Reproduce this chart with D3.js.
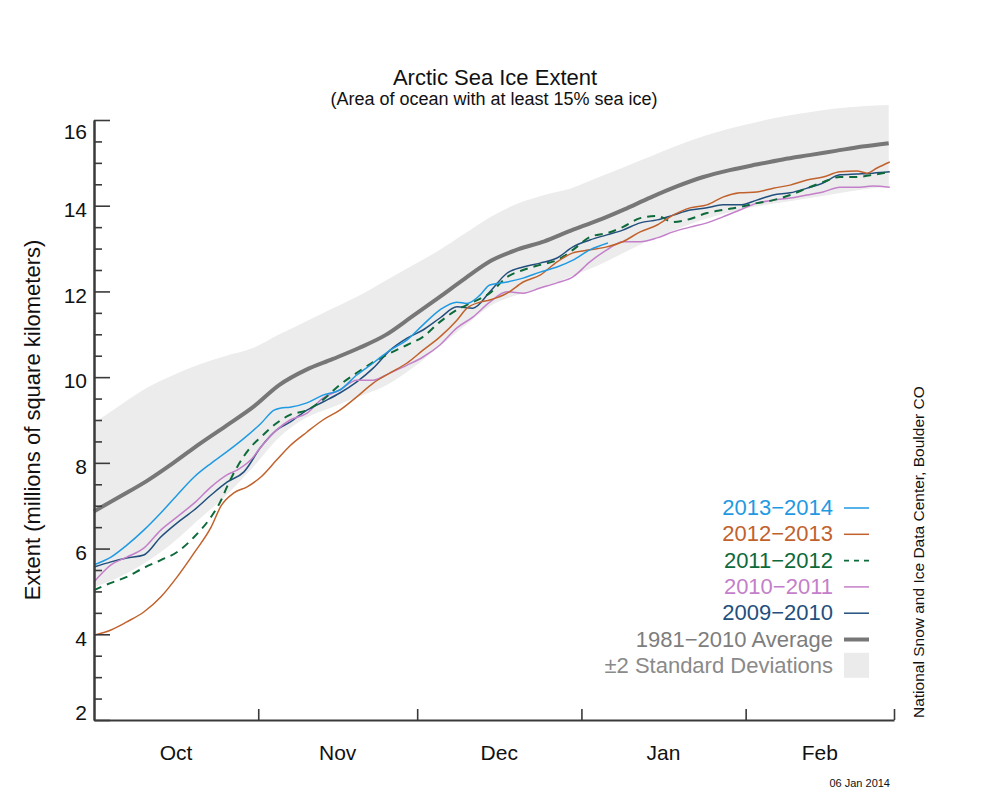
<!DOCTYPE html>
<html>
<head>
<meta charset="utf-8">
<script src="https://cdn.jsdelivr.net/npm/d3@7"></script>
<style>
  html, body { margin: 0; padding: 0; background: #fff; }
  svg text { font-family: "Liberation Sans", Arial, Helvetica, sans-serif; }
</style>
</head>
<body>
<svg id="chart" width="1000" height="800"></svg>
<script>
// ---------- DATA (day offsets from 1 Oct 2013, extent in millions of km²) ----------
const monthLabels = ["Oct", "Nov", "Dec", "Jan", "Feb"];
const yMajorTicks = [2, 4, 6, 8, 10, 12, 14, 16];

const bandDays = [0,5,10,15,20,25,30,35,40,45,50,55,60,65,70,75,80,85,90,95,100,105,110,115,120,125,130,135,140,145,150];
const avg1981_2010 = [6.87,7.22,7.58,8.00,8.45,8.87,9.30,9.82,10.17,10.42,10.68,10.98,11.41,11.85,12.30,12.72,12.98,13.17,13.42,13.65,13.91,14.19,14.45,14.67,14.83,14.96,15.08,15.18,15.28,15.38,15.46];
const stdUpper = [8.93,9.35,9.75,10.05,10.30,10.50,10.68,11.00,11.30,11.60,11.90,12.25,12.60,12.95,13.35,13.75,14.05,14.25,14.40,14.65,14.90,15.15,15.40,15.62,15.80,15.95,16.08,16.18,16.27,16.32,16.35];
const stdLower = [5.10,5.35,5.70,6.15,6.70,7.25,7.90,8.60,9.05,9.30,9.55,9.80,10.20,10.70,11.20,11.68,11.92,12.10,12.35,12.60,12.90,13.20,13.45,13.68,13.85,13.98,14.08,14.18,14.28,14.38,14.45];

const s2013_2014 = [[0,5.62],[3.2,5.8],[6.2,6.08],[9.4,6.43],[12.6,6.83],[15.7,7.25],[18.9,7.67],[22.1,7.99],[25.1,8.26],[28.3,8.57],[31.5,8.92],[34.0,9.23],[35.3,9.28],[37.0,9.30],[40.2,9.40],[43.2,9.58],[46.4,9.70],[49.6,10.05],[52.7,10.33],[55.9,10.63],[59.1,10.87],[62.1,11.22],[65.3,11.57],[68.5,11.75],[70.4,11.72],[72.9,11.92],[74.7,12.15],[78.0,12.22],[81.0,12.31],[84.2,12.45],[87.4,12.57],[90.4,12.73],[93.6,12.97],[97.0,13.13]];
const s2012_2013 = [[0,3.98],[3.2,4.10],[6.2,4.29],[9.4,4.52],[12.6,4.87],[15.7,5.34],[18.9,5.90],[22.1,6.50],[24.0,7.00],[26.4,7.30],[28.9,7.44],[31.5,7.67],[34.5,8.07],[37.0,8.40],[40.2,8.72],[43.2,9.00],[46.4,9.23],[49.6,9.54],[52.7,9.86],[55.9,10.10],[59.1,10.33],[62.1,10.63],[65.3,10.94],[68.5,11.33],[70.4,11.61],[72.9,11.75],[74.7,11.80],[78.0,11.96],[81.0,12.22],[84.2,12.38],[87.4,12.69],[90.4,12.90],[93.6,12.97],[96.8,13.04],[99.8,13.16],[103.1,13.39],[106.3,13.55],[109.3,13.78],[112.5,13.95],[115.7,14.02],[118.7,14.20],[121.9,14.30],[125.1,14.32],[128.2,14.41],[131.4,14.48],[134.6,14.60],[137.6,14.67],[140.8,14.79],[144.0,14.81],[145.9,14.76],[147.8,14.88],[150.2,15.02]];
const s2011_2012 = [[0,5.03],[3.2,5.20],[6.2,5.34],[9.4,5.55],[12.6,5.73],[15.7,5.92],[18.9,6.27],[22.1,6.74],[24.0,7.13],[25.1,7.44],[27.0,7.90],[29.6,8.37],[31.5,8.60],[34.5,8.93],[37.0,9.12],[40.2,9.23],[43.2,9.47],[46.4,9.82],[49.6,10.10],[52.7,10.35],[55.9,10.56],[59.1,10.75],[62.1,10.94],[65.3,11.29],[68.5,11.57],[71.5,11.75],[74.7,11.96],[78.0,12.34],[81.0,12.50],[84.2,12.62],[87.4,12.73],[90.4,12.97],[93.6,13.27],[96.8,13.36],[99.8,13.50],[103.1,13.71],[106.3,13.76],[109.3,13.62],[112.5,13.69],[115.7,13.83],[118.7,13.90],[121.9,13.97],[125.1,14.06],[128.2,14.13],[131.4,14.25],[134.6,14.41],[137.6,14.55],[140.8,14.67],[144.0,14.67],[147.0,14.72],[150.2,14.79]];
const s2010_2011 = [[0,5.22],[3.2,5.62],[6.2,5.80],[9.4,6.01],[12.6,6.43],[15.7,6.74],[18.9,7.06],[22.1,7.44],[25.1,7.72],[27.0,7.83],[29.6,8.07],[31.5,8.37],[34.5,8.77],[37.0,9.00],[40.2,9.16],[43.2,9.51],[46.4,9.70],[49.6,9.93],[52.7,9.93],[55.9,10.10],[59.1,10.28],[62.1,10.47],[65.3,10.75],[68.5,11.15],[71.5,11.40],[74.7,11.75],[78.0,11.99],[81.0,11.96],[84.2,12.08],[87.4,12.20],[90.4,12.34],[93.6,12.69],[96.8,12.97],[99.8,13.16],[103.1,13.16],[106.3,13.25],[109.3,13.39],[112.5,13.50],[115.7,13.60],[118.7,13.74],[121.9,13.90],[125.1,14.06],[128.2,14.13],[131.4,14.18],[134.6,14.25],[137.6,14.32],[140.8,14.43],[144.0,14.43],[147.0,14.46],[150.2,14.43]];
const s2009_2010 = [[0,5.57],[3.2,5.69],[6.2,5.78],[9.4,5.85],[12.6,6.27],[15.7,6.60],[18.9,6.90],[22.1,7.25],[25.1,7.55],[28.3,7.79],[31.5,8.37],[34.5,8.77],[37.0,8.95],[40.2,9.23],[43.2,9.42],[46.4,9.63],[49.6,9.89],[52.7,10.21],[55.9,10.63],[59.1,10.91],[62.1,11.10],[65.3,11.38],[68.5,11.64],[71.5,11.61],[74.7,11.99],[78.0,12.43],[81.0,12.57],[84.2,12.66],[87.4,12.78],[90.4,13.04],[93.6,13.20],[96.8,13.32],[99.8,13.43],[103.1,13.60],[106.3,13.67],[109.3,13.78],[112.5,13.90],[115.7,13.95],[118.7,14.02],[121.9,14.02],[125.1,14.13],[128.2,14.25],[131.4,14.30],[134.6,14.41],[137.6,14.53],[140.8,14.72],[144.0,14.74],[147.0,14.76],[150.2,14.79]];

const seriesNames = ["2013\u22122014", "2012\u22122013", "2011\u22122012", "2010\u22122011", "2009\u22122010"];
const seriesData = [s2013_2014, s2012_2013, s2011_2012, s2010_2011, s2009_2010];
const seriesColors = ["#1f9ae2", "#c1622d", "#0d6a3a", "#c47fca", "#234f7d"];
const seriesDashed = [false, false, true, false, false];

// ---------- CHART ----------
const svg = d3.select("#chart");
const start = new Date(Date.UTC(2013, 9, 1));
const end = new Date(Date.UTC(2014, 2, 1));
const dayToDate = d => new Date(start.getTime() + d * 864e5);

const x = d3.scaleUtc().domain([start, end]).range([94, 894]);
const y = d3.scaleLinear().domain([2, 16]).range([720, 120]);

// std band
const bandData = bandDays.map((d, i) => ({ d, lo: stdLower[i], hi: stdUpper[i] }));
svg.append("path")
  .datum(bandData)
  .attr("fill", "#ececec")
  .attr("d", d3.area().x(p => x(dayToDate(p.d))).y0(p => y(p.lo)).y1(p => y(p.hi)).curve(d3.curveMonotoneX));

// average
svg.append("path")
  .datum(bandDays.map((d, i) => [d, avg1981_2010[i]]))
  .attr("fill", "none")
  .attr("stroke", "#777")
  .attr("stroke-width", 4)
  .attr("d", d3.line().x(p => x(dayToDate(p[0]))).y(p => y(p[1])).curve(d3.curveMonotoneX));

const line = d3.line().x(p => x(dayToDate(p[0]))).y(p => y(p[1])).curve(d3.curveMonotoneX);
const order = [4, 3, 2, 1, 0];
order.forEach(i => {
  svg.append("path")
    .datum(seriesData[i])
    .attr("fill", "none")
    .attr("stroke", seriesColors[i])
    .attr("stroke-width", seriesDashed[i] ? 2 : 1.5)
    .attr("stroke-dasharray", seriesDashed[i] ? "8,6" : null)
    .attr("d", line);
});

// y axis
const yMinor = d3.range(2, 16.01, 0.5).filter(v => !yMajorTicks.includes(v));
const yAxisMinor = svg.append("g").attr("transform", "translate(94,0)")
  .call(d3.axisLeft(y).tickValues(yMinor).tickSize(-8).tickSizeOuter(0).tickFormat(""));
const yAxis = svg.append("g").attr("transform", "translate(94,0)")
  .call(d3.axisLeft(y).tickValues(yMajorTicks).tickSize(-16).tickSizeOuter(0).tickPadding(7).tickFormat(d3.format("d")));
yAxis.selectAll("text")
  .attr("font-size", 21)
  .attr("fill", "#111")
  .attr("transform", d => `translate(0,${d === 16 ? 12 : d === 2 ? -7 : 4})`);

// x axis
const xTicks = d3.utcMonth.range(d3.utcMonth.offset(start, 1), d3.utcDay.offset(end, 1));
const xAxis = svg.append("g").attr("transform", "translate(0,720)")
  .call(d3.axisBottom(x).tickValues(xTicks).tickSize(-11).tickSizeOuter(0).tickFormat(""));

[yAxis, yAxisMinor, xAxis].forEach(g => {
  g.selectAll("path.domain").attr("stroke", "#3a3a3a").attr("stroke-width", 2);
  g.selectAll(".tick line").attr("stroke", "#3a3a3a").attr("stroke-width", 1.6);
});

// month labels centered in each month
const months = d3.utcMonth.range(start, end);
svg.append("g").selectAll("text")
  .data(months)
  .join("text")
  .attr("x", m => (x(m) + x(d3.utcMonth.offset(m, 1))) / 2)
  .attr("y", 760)
  .attr("text-anchor", "middle")
  .attr("font-size", 21)
  .attr("fill", "#111")
  .text((m, i) => monthLabels[i]);

// titles
svg.append("text").attr("x", 495).attr("y", 85).attr("text-anchor", "middle")
  .attr("font-size", 22).attr("fill", "#111").text("Arctic Sea Ice Extent");
svg.append("text").attr("x", 494).attr("y", 105).attr("text-anchor", "middle")
  .attr("font-size", 18).attr("fill", "#111").text("(Area of ocean with at least 15% sea ice)");

// y axis title
svg.append("text")
  .attr("transform", "translate(40,420) rotate(-90)")
  .attr("text-anchor", "middle")
  .attr("font-size", 22)
  .attr("fill", "#111")
  .text("Extent (millions of square kilometers)");

// right credit
svg.append("text")
  .attr("transform", "translate(924,718) rotate(-90)")
  .attr("text-anchor", "start")
  .attr("font-size", 15.5)
  .attr("fill", "#111")
  .text("National Snow and Ice Data Center, Boulder CO");

// date stamp
svg.append("text").attr("x", 890).attr("y", 787).attr("text-anchor", "end")
  .attr("font-size", 11).attr("fill", "#111").text("06 Jan 2014");

// legend
const legX = 833, legY0 = 515, legStep = 26.3;
const legend = svg.append("g");
seriesNames.forEach((name, i) => {
  const yy = legY0 + i * legStep;
  legend.append("text").attr("x", legX).attr("y", yy).attr("text-anchor", "end")
    .attr("font-size", 22).attr("fill", seriesColors[i]).text(name);
  legend.append("line").attr("x1", 844).attr("x2", 869).attr("y1", yy - 7).attr("y2", yy - 7)
    .attr("stroke", seriesColors[i]).attr("stroke-width", seriesDashed[i] ? 1.8 : 1.5)
    .attr("stroke-dasharray", seriesDashed[i] ? "5,5" : null);
});
const yAvg = legY0 + 5 * legStep;
legend.append("text").attr("x", legX).attr("y", yAvg).attr("text-anchor", "end")
  .attr("font-size", 22).attr("fill", "#7d7d7d").text("1981\u22122010 Average");
legend.append("line").attr("x1", 844).attr("x2", 869).attr("y1", yAvg - 7).attr("y2", yAvg - 7)
  .attr("stroke", "#777").attr("stroke-width", 4);
const yStd = legY0 + 6 * legStep;
legend.append("text").attr("x", legX).attr("y", yStd).attr("text-anchor", "end")
  .attr("font-size", 22).attr("fill", "#8a8a8a").text("\u00B12 Standard Deviations");
legend.append("rect").attr("x", 844).attr("y", yStd - 20).attr("width", 25).attr("height", 25)
  .attr("fill", "#ebebeb");
</script>
</body>
</html>
